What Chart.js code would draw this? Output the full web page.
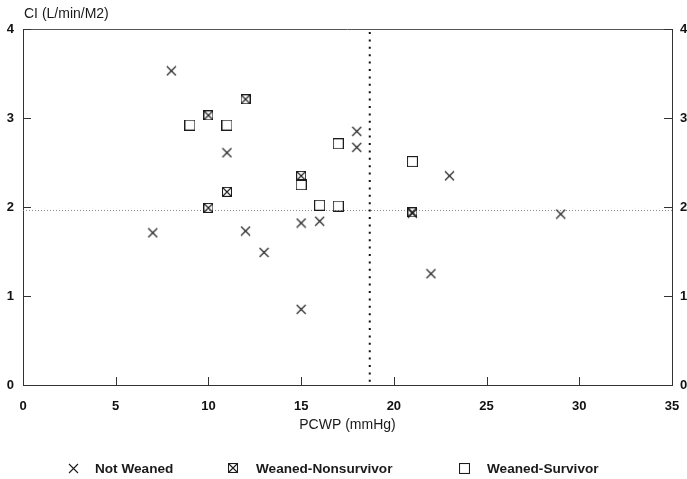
<!DOCTYPE html>
<html>
<head>
<meta charset="utf-8">
<script src="https://cdn.jsdelivr.net/npm/chart.js@4/dist/chart.umd.min.js"></script>
<style>
  html, body { margin: 0; padding: 0; background: #fff; }
  #wrap { width: 687px; height: 479px; }
</style>
</head>
<body>
<div id="wrap"><canvas id="c" width="687" height="479"></canvas></div>
<script>
// Axis ticks
const xTicks = [0, 5, 10, 15, 20, 25, 30, 35];
const yTicks = [0, 1, 2, 3, 4];

// PCWP (mmHg) and CI (L/min/M2) per group
const notWeanedPCWP = [8, 7, 11, 12, 13, 15, 15, 16, 18, 18, 21, 22, 23, 29];
const notWeanedCI   = [3.53, 1.71, 2.61, 1.73, 1.49, 1.82, 0.85, 1.84, 2.85, 2.67, 1.93, 1.25, 2.35, 1.92];

const nonsurvivorPCWP = [10, 12, 11, 10, 15, 21];
const nonsurvivorCI   = [3.03, 3.21, 2.17, 1.99, 2.35, 1.94];

const survivorPCWP = [9, 11, 15, 16, 17, 17, 21];
const survivorCI   = [2.92, 2.92, 2.25, 2.02, 2.01, 2.71, 2.51];

// Reference cut-off lines
const pcwpCutoff = 18.7;
const ciCutoff = 1.97;

const groupLabels = ['Not Weaned', 'Weaned-Nonsurvivor', 'Weaned-Survivor'];

const INK = '#1c1c1c';

// Marker glyphs drawn onto small canvases and used as point styles
function makeMarker(kind) {
  const s = kind === 'boxcross' ? 10 : 11;
  const c = document.createElement('canvas');
  c.width = s; c.height = s;
  const g = c.getContext('2d');
  g.strokeStyle = INK;
  g.lineWidth = 1.1;
  if (kind === 'cross') {
    g.beginPath();
    g.moveTo(1, 1); g.lineTo(10, 10);
    g.moveTo(10, 1); g.lineTo(1, 10);
    g.stroke();
  } else if (kind === 'box') {
    g.strokeRect(0.5, 0.5, 10, 10);
  } else {
    g.strokeRect(0.5, 0.5, 9, 9);
    g.beginPath();
    g.moveTo(0.5, 0.5); g.lineTo(9.5, 9.5);
    g.moveTo(9.5, 0.5); g.lineTo(0.5, 9.5);
    g.stroke();
  }
  return c;
}

const crossMark = makeMarker('cross');
const boxCrossMark = makeMarker('boxcross');
const boxMark = makeMarker('box');

function toPoints(xs, ys) {
  return xs.map((x, i) => ({ x: x, y: ys[i] }));
}

const textFont = "'Liberation Sans', Arial, sans-serif";
const tickFont = { family: textFont, size: 13, weight: 'bold' };

// Frame, inner tick marks, cut-off lines, y-axis caption and legend
const decorations = {
  id: 'decorations',
  beforeDatasetsDraw(chart) {
    const { ctx, chartArea: a, scales } = chart;
    const x = scales.x, y = scales.y;
    ctx.save();

    // top edge of the frame
    ctx.strokeStyle = '#555';
    ctx.lineWidth = 1;
    ctx.beginPath();
    ctx.moveTo(a.left, Math.round(a.top) + 0.5);
    ctx.lineTo(a.right, Math.round(a.top) + 0.5);
    ctx.stroke();

    // tick marks pointing into the plot
    ctx.strokeStyle = '#333';
    ctx.beginPath();
    xTicks.forEach(v => {
      const px = Math.round(x.getPixelForValue(v)) + 0.5;
      ctx.moveTo(px, a.bottom);
      ctx.lineTo(px, a.bottom - 8);
    });
    yTicks.forEach(v => {
      const py = Math.round(y.getPixelForValue(v)) + 0.5;
      ctx.moveTo(a.left, py);
      ctx.lineTo(a.left + 8, py);
      ctx.moveTo(a.right, py);
      ctx.lineTo(a.right - 8, py);
    });
    ctx.stroke();

    // horizontal CI cut-off (fine grey dots)
    const hy = Math.round(y.getPixelForValue(ciCutoff)) + 0.5;
    ctx.strokeStyle = '#8a8a8a';
    ctx.lineWidth = 1;
    ctx.setLineDash([1, 2]);
    ctx.beginPath();
    ctx.moveTo(a.left, hy);
    ctx.lineTo(a.right, hy);
    ctx.stroke();

    // vertical PCWP cut-off (heavy black dots)
    const vx = x.getPixelForValue(pcwpCutoff);
    ctx.strokeStyle = '#111';
    ctx.lineWidth = 2;
    ctx.setLineDash([2, 5.4]);
    ctx.beginPath();
    ctx.moveTo(vx, a.top + 3);
    ctx.lineTo(vx, a.bottom);
    ctx.stroke();
    ctx.restore();
  },
  afterDraw(chart) {
    const { ctx, chartArea: a } = chart;
    ctx.save();
    ctx.fillStyle = '#1a1a1a';
    ctx.textBaseline = 'middle';
    ctx.textAlign = 'left';

    // y-axis caption above the frame
    ctx.font = '14px ' + textFont;
    ctx.fillText('CI (L/min/M2)', a.left + 1, 14);

    // legend row
    const symbolX = [73, 233, 464];
    const textX = [95, 256, 487];
    const rowY = 468;
    ctx.font = 'bold 13.6px ' + textFont;
    chart.data.datasets.forEach((ds, i) => {
      const img = ds.pointStyle;
      ctx.drawImage(img, Math.round(symbolX[i] - img.width / 2), Math.round(rowY - img.height / 2));
      ctx.fillText(ds.label, textX[i], rowY + 1);
    });
    ctx.restore();
  }
};

new Chart(document.getElementById('c'), {
  type: 'scatter',
  data: {
    datasets: [
      {
        label: groupLabels[0],
        data: toPoints(notWeanedPCWP, notWeanedCI),
        pointStyle: crossMark,
        pointRadius: 5
      },
      {
        label: groupLabels[1],
        data: toPoints(nonsurvivorPCWP, nonsurvivorCI),
        pointStyle: boxCrossMark,
        pointRadius: 5
      },
      {
        label: groupLabels[2],
        data: toPoints(survivorPCWP, survivorCI),
        pointStyle: boxMark,
        pointRadius: 5
      }
    ]
  },
  options: {
    responsive: false,
    animation: false,
    devicePixelRatio: 1,
    events: [],
    layout: { padding: { top: 29, left: 0, right: 0, bottom: 0 } },
    plugins: {
      legend: { display: false },
      tooltip: { enabled: false },
      title: { display: false }
    },
    scales: {
      x: {
        type: 'linear',
        position: 'bottom',
        min: 0,
        max: 35,
        afterBuildTicks(scale) { scale.ticks = xTicks.map(v => ({ value: v })); },
        afterFit(scale) {
          scale.height = 94;
          scale.paddingLeft = 0;
          scale.paddingRight = 0;
        },
        grid: { display: false, drawTicks: false },
        border: { display: true, color: '#333', width: 1 },
        ticks: { font: tickFont, color: '#111', padding: 14, maxRotation: 0 },
        title: {
          display: true,
          text: 'PCWP (mmHg)',
          color: '#1a1a1a',
          font: { family: textFont, size: 14 },
          padding: { top: 0, bottom: 45.6 }
        }
      },
      y: {
        type: 'linear',
        position: 'left',
        min: 0,
        max: 4,
        afterBuildTicks(scale) { scale.ticks = yTicks.map(v => ({ value: v })); },
        afterFit(scale) {
          scale.width = 23;
          scale.paddingTop = 0;
          scale.paddingBottom = 0;
        },
        grid: { display: false, drawTicks: false },
        border: { display: true, color: '#333', width: 1 },
        ticks: { font: tickFont, color: '#111', padding: 9 }
      },
      y2: {
        type: 'linear',
        position: 'right',
        min: 0,
        max: 4,
        afterBuildTicks(scale) { scale.ticks = yTicks.map(v => ({ value: v })); },
        afterFit(scale) {
          scale.width = 15;
          scale.paddingTop = 0;
          scale.paddingBottom = 0;
        },
        grid: { display: false, drawTicks: false },
        border: { display: true, color: '#333', width: 1 },
        ticks: { font: tickFont, color: '#111', padding: 8 }
      }
    }
  },
  plugins: [decorations]
});
</script>
</body>
</html>
